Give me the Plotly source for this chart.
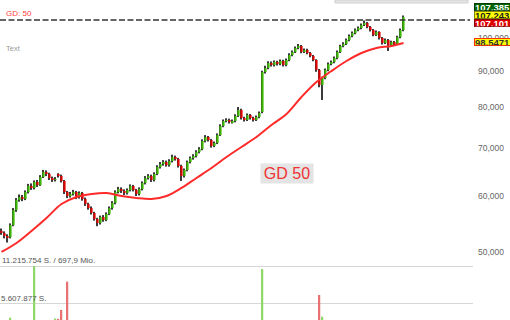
import plotly.graph_objects as go

# ---------------- data ----------------
idx = list(range(135))

opens = [53600, 53200, 52700, 52500, 54600, 57340, 59230, 59800, 59420, 60780,
         62000, 61580, 62790, 62170, 63820, 64860, 64440, 63610, 63200, 64300,
         64020, 62990, 60780, 60000, 60390, 60780, 59810, 60590, 59420, 58470,
         57710, 56780, 55690, 54970, 56050, 55510, 56600, 57710, 58660, 60780,
         61380, 60980, 60590, 61180, 61980, 61180, 60390, 61380, 62590, 63610,
         64020, 63200, 64440, 65920, 66560, 66990, 66340, 67210, 68090, 67650,
         66130, 64020, 65280, 66990, 67870, 68310, 69210, 69890, 71720, 72650,
         71950, 70570, 71250, 73120, 75290, 76520, 76770, 76270, 76520, 77770,
         79300, 77270, 76770, 78020, 77270, 76770, 77520, 78790, 89700, 90880,
         92350, 91750, 92650, 92050, 92960, 91750, 93260, 94780, 95720, 96970,
         97600, 95720, 96340, 95400, 94480, 93260, 90290, 85990, 87970, 90290,
         92050, 92650, 93870, 95720, 97600, 98240, 99510, 100810, 101800, 102780,
         103450, 104460, 105140, 103780, 102780, 101130, 102120, 100160, 98540, 99510,
         97910, 98860, 98240, 100480, 102780]

highs = [54000, 53500, 53000, 54900, 57700, 59600, 60300, 60200, 61100, 62400,
         62500, 63100, 63200, 64200, 65300, 65200, 64700, 63900, 63800, 64600,
         64300, 63200, 61000, 60800, 61200, 61000, 60900, 60800, 59700, 58700,
         58000, 57000, 55900, 56300, 56400, 56900, 58000, 59000, 61100, 61800,
         61700, 61300, 61500, 62300, 62200, 61400, 61700, 62900, 64000, 64400,
         64300, 64800, 66300, 67000, 67400, 67300, 67600, 68600, 68400, 67900,
         66400, 65600, 67300, 68200, 68700, 69600, 70300, 72100, 73100, 72900,
         72200, 71600, 73500, 75700, 76900, 77200, 77100, 76900, 78200, 80100,
         79600, 77600, 78400, 78300, 77600, 77900, 78900, 90100, 91500, 92900,
         92800, 93100, 93000, 93400, 93300, 93700, 95300, 96200, 97400, 98200,
         97900, 96800, 96700, 95700, 94800, 93500, 90600, 88300, 90700, 92500,
         93100, 94300, 96200, 98000, 98800, 100000, 101300, 102300, 103300, 104000,
         105000, 106000, 105500, 104100, 103100, 102600, 102400, 100500, 100000, 99800,
         99300, 99200, 100900, 103300, 107700]

lows = [52900, 52300, 51600, 52300, 54400, 57000, 58900, 59000, 59200, 60500,
        61200, 61300, 61800, 62000, 63600, 64000, 63200, 62800, 62900, 63700,
        62700, 60400, 59600, 59700, 60100, 59400, 59500, 59100, 58100, 57400,
        56500, 55400, 54400, 54700, 55200, 55300, 56400, 57400, 58400, 60500,
        60600, 60200, 60300, 60900, 60900, 60000, 60100, 61100, 62300, 63300,
        62800, 62900, 64200, 65600, 66200, 66000, 66000, 66900, 67300, 65800,
        63000, 63700, 65000, 66700, 67500, 68000, 68900, 69600, 71400, 71600,
        70200, 70300, 71000, 72900, 75000, 76200, 75900, 75900, 76200, 77500,
        76900, 76400, 76500, 76900, 76400, 76500, 77200, 78500, 89300, 90500,
        91300, 91300, 91600, 91700, 91300, 91400, 92900, 94400, 95400, 96600,
        95300, 95400, 95000, 94100, 92900, 89800, 85400, 81900, 87600, 89900,
        91700, 92300, 93500, 95400, 97200, 97900, 99100, 100400, 101400, 102400,
        103000, 104100, 103400, 102300, 100700, 100800, 99700, 98100, 98200, 96000,
        97500, 97800, 97900, 100100, 102400]

closes = [53200, 52700, 52500, 54600, 57340, 59230, 59800, 59420, 60780, 62000,
          61580, 62790, 62170, 63820, 64860, 64440, 63610, 63200, 63400, 64020,
          62990, 60780, 60000, 60390, 60780, 59810, 60590, 59420, 58470, 57710,
          56780, 55690, 54970, 56050, 55510, 56600, 57710, 58660, 60780, 61380,
          60980, 60590, 61180, 61980, 61180, 60390, 61380, 62590, 63610, 64020,
          63200, 64440, 65920, 66560, 66990, 66340, 67210, 68090, 67650, 66130,
          64020, 65280, 66990, 67870, 68310, 69210, 69890, 71720, 72650, 71950,
          70570, 71250, 73120, 75290, 76520, 76770, 76270, 76520, 77770, 79300,
          77270, 76770, 78020, 77270, 76770, 77520, 78530, 89700, 90880, 92350,
          91750, 92650, 92050, 92960, 91750, 93260, 94780, 95720, 96970, 97600,
          95720, 96340, 95400, 94480, 93260, 90290, 85990, 87970, 90290, 92050,
          92650, 93870, 95720, 97600, 98240, 99510, 100810, 101800, 102780, 103450,
          104460, 105140, 103780, 102780, 101130, 102120, 100160, 98540, 99510, 97910,
          98860, 98240, 100480, 102780, 107243]

volumes = [2100000, 1900000, 2400000, 3380000, 2700000, 2500000, 2200000, 1800000, 2000000, 2300000,
           1900000, 11215754, 2600000, 2400000, 2200000, 1900000, 2100000, 2500000, 3260000, 3200000,
           4550000, 2800000, 8840000, 2300000, 2000000, 1800000, 1900000, 2100000, 2200000, 2400000,
           2000000, 2300000, 2600000, 2100000, 1800000, 1700000, 1900000, 2000000, 2500000, 2200000,
           1800000, 1600000, 1700000, 1900000, 1800000, 2000000, 1700000, 1900000, 2100000, 1800000,
           1600000, 1900000, 2200000, 2000000, 1700000, 1800000, 1900000, 2100000, 1800000, 2300000,
           2700000, 2200000, 2000000, 1800000, 1700000, 1900000, 1800000, 2100000, 2000000, 1900000,
           2200000, 1800000, 2000000, 2300000, 1900000, 1700000, 1800000, 1600000, 1900000, 2400000,
           2200000, 1800000, 1700000, 1900000, 1800000, 1600000, 1900000, 10760000, 2900000, 2400000,
           2100000, 1900000, 1800000, 2000000, 1900000, 1700000, 2100000, 2000000, 1800000, 2200000,
           2300000, 1900000, 1800000, 2000000, 2400000, 2800000, 6820000, 3530000, 2600000, 2200000,
           1900000, 1800000, 2000000, 2100000, 1700000, 1800000, 1900000, 1700000, 1800000, 1600000,
           1900000, 2100000, 2200000, 2000000, 2400000, 1800000, 2200000, 2500000, 2100000, 2700000,
           2000000, 1900000, 2300000, 2400000, 2900000]

ma_idx = [0, 5, 10, 15, 20, 25, 30, 35, 40, 45, 50, 55, 60, 65, 70, 75, 80, 85,
          90, 95, 100, 105, 110, 115, 120, 125, 130, 134]
ma_vals = [50040, 51520, 53570, 55870, 58460, 59810, 60390, 60590, 60000, 59620,
           59420, 60000, 61580, 63610, 65710, 68090, 70340, 72650, 75530, 78280,
           82720, 86830, 89990, 92960, 95400, 96970, 97600, 98547]

price_ticks = [40000, 50000, 60000, 70000, 80000, 90000, 100000]
price_tick_text = ["40,000", "50,000", "60,000", "70,000", "80,000", "90,000", "100,000"]
vol_ticks = [5607877, 11215754]
ref_level = 106200
quote_labels = ["107,385", "107,243", "107,101"]
gd_value_label = "98,5471"

# ---------------- derived ----------------
up = [c >= o for o, c in zip(opens, closes)]
body_base = [min(o, c) for o, c in zip(opens, closes)]
body_size = [abs(c - o) for o, c in zip(opens, closes)]
wick_size = [h - l for h, l in zip(highs, lows)]
body_colors = ['#3cb800' if u else '#e00000' for u in up]
vol_colors = ['#8fd86a' if u else '#e87272' for u in up]

FONT = "Liberation Sans, Arial, sans-serif"
W, H = 510, 320
PW = 473  # plot width in px

fig = go.Figure()
fig.add_trace(go.Bar(x=idx, y=volumes, yaxis='y2', marker_color=vol_colors,
                     marker_line_width=0, width=0.5, hoverinfo='skip'))
# wicks (drawn as thin bars so the bodies can sit on top of them)
fig.add_trace(go.Bar(x=idx, y=wick_size, base=lows, marker_color='#3a3a3a',
                     marker_line_width=0, width=0.34, hoverinfo='skip'))
fig.add_trace(go.Bar(x=idx, y=body_size, base=body_base, marker_color=body_colors,
                     marker_line_width=0, width=0.72, hoverinfo='skip'))
fig.add_trace(go.Scatter(x=ma_idx, y=ma_vals, mode='lines',
                         line=dict(color='#ff2a2a', width=2, shape='spline'), hoverinfo='skip'))
fig.add_trace(go.Scatter(x=[-0.5, 156.2], y=[ref_level, ref_level], mode='lines',
                         line=dict(color='#333333', width=1.6, dash='6px,2.5px'), hoverinfo='skip'))

def py(px):
    return 1 - px / H

def pxx(px):
    return px / PW

P = dict(xref='paper', yref='paper', showarrow=False)
ann = []
ann.append(dict(text="GD: 50", x=pxx(4), y=py(13), xanchor='left', yanchor='middle',
                font=dict(family=FONT, size=8, color='#ff3b3b'), **P))
ann.append(dict(text="Text", x=pxx(4), y=py(48), xanchor='left', yanchor='middle',
                font=dict(family=FONT, size=7.5, color='#9a9a9a'), **P))
ann.append(dict(text="11.215.754 S. / 697,9 Mio.", x=pxx(0), y=py(260.5), xanchor='left', yanchor='middle',
                font=dict(family=FONT, size=8, color='#555555'), **P))
ann.append(dict(text="5.607.877 S.", x=pxx(-1), y=py(298.5), xanchor='left', yanchor='middle',
                font=dict(family=FONT, size=8, color='#555555'), **P))
ann.append(dict(text="GD 50", x=pxx(287), y=py(173.5), xanchor='center', yanchor='middle',
                width=50, height=17, bgcolor='#e4e4e4', borderpad=1,
                font=dict(family=FONT, size=16, color='#ee3333'), **P))

box_specs = [
    (quote_labels[0], 6.6, '#006400', '#003a00', '#ffffff'),
    (quote_labels[1], 14.9, '#ffff00', '#888800', '#222222'),
    (quote_labels[2], 23.2, '#dd0000', '#880000', '#ffffff'),
    (gd_value_label, 41.7, '#ffff00', '#ff3300', '#333333'),
]
for txt, yc, bg, bc, fc in box_specs:
    ann.append(dict(text="<b>" + txt + "</b>", x=1, y=py(yc), xanchor='left', yanchor='middle', xshift=1,
                    width=40, height=6.2, align='left', bgcolor=bg, bordercolor=bc,
                    borderwidth=1, borderpad=0,
                    font=dict(family=FONT, size=9.5, color=fc), **P))

shapes = [dict(type='rect', xref='paper', yref='paper', x0=pxx(335), x1=pxx(468),
               y0=py(3), y1=1.0, fillcolor='#e6e6e6', line=dict(color='#cfcfcf', width=1))]

fig.update_layout(
    width=W, height=H, margin=dict(l=0, r=W - PW, t=0, b=0),
    paper_bgcolor='white', plot_bgcolor='white', showlegend=False,
    barmode='overlay', annotations=ann, shapes=shapes,
    xaxis=dict(visible=False, range=[-0.5, 157.17], fixedrange=True),
    yaxis=dict(type='log', range=[4.6035, 5.0542], side='right', showgrid=False,
               zeroline=False, showline=False, ticks='', tickvals=price_ticks,
               ticktext=price_tick_text, ticklabelstandoff=4,
               tickfont=dict(family=FONT, size=8.5, color='#666666')),
    yaxis2=dict(overlaying='y', side='left', range=[3031289, 51531778],
                tickvals=vol_ticks, showticklabels=False, showgrid=True,
                gridcolor='#d6d6d6', gridwidth=1, zeroline=False, showline=False, ticks=''),
)

fig.write_html("out.html")
